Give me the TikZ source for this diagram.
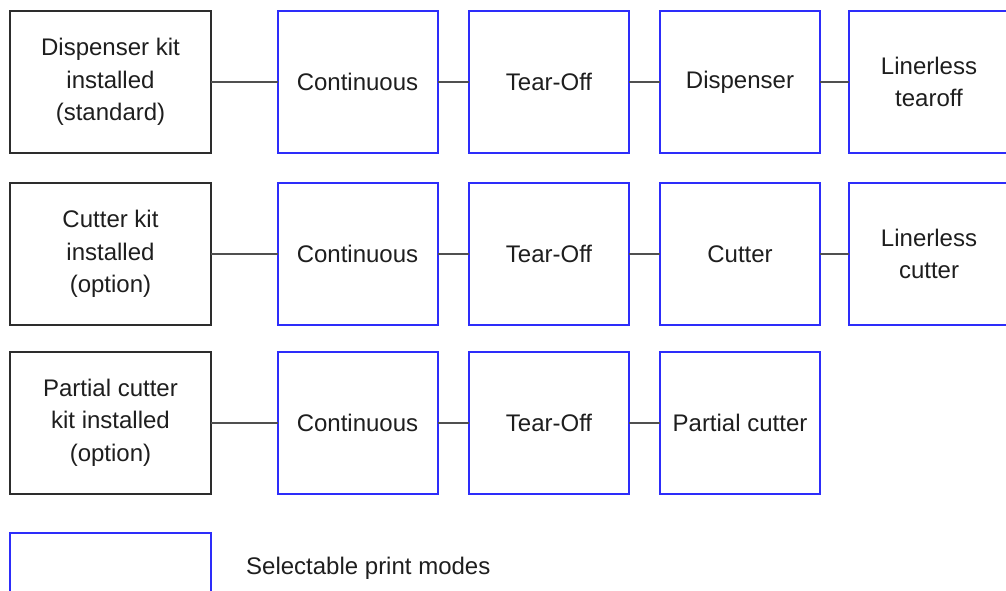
\documentclass[tikz,border=0pt]{standalone}
\usepackage{fontspec}
\setmainfont{Liberation Sans}
\definecolor{kitborder}{RGB}{45,45,45}
\definecolor{modeblue}{RGB}{45,45,250}
\definecolor{linkgray}{RGB}{80,80,80}
\definecolor{txt}{RGB}{30,30,30}
\begin{document}
\begin{tikzpicture}[x=1pt,y=-1pt,
  kitbox/.style={draw=kitborder,line width=2pt,minimum width=201pt,minimum height=142pt,inner sep=0pt,outer sep=0pt,align=center,text=txt,font=\fontsize{24}{32.5}\selectfont},
  modebox/.style={draw=modeblue,line width=2pt,minimum width=160pt,minimum height=142pt,inner sep=0pt,outer sep=0pt,align=center,text=txt,font=\fontsize{24}{32.5}\selectfont},
  link/.style={draw=linkgray,line width=2pt}]
\useasboundingbox (0,0) rectangle (1006,590);
\clip (0,0) rectangle (1006,590);
% row 1
\node[kitbox] (k1) at (110.5,82) {Dispenser kit\\installed\\(standard)};
\node[modebox] (a1) at (357.5,82) {Continuous};
\node[modebox] (a2) at (549,82) {Tear-Off};
\node[modebox] (a3) at (740,82) {Dispenser};
\node[modebox] (a4) at (929,82) {Linerless\\tearoff};
% row 2
\node[kitbox] (k2) at (110.5,254) {Cutter kit\\installed\\(option)};
\node[modebox] (b1) at (357.5,254) {Continuous};
\node[modebox] (b2) at (549,254) {Tear-Off};
\node[modebox] (b3) at (740,254) {Cutter};
\node[modebox] (b4) at (929,254) {Linerless\\cutter};
% row 3
\node[kitbox] (k3) at (110.5,422.5) {Partial cutter\\kit installed\\(option)};
\node[modebox] (c1) at (357.5,422.5) {Continuous};
\node[modebox] (c2) at (549,422.5) {Tear-Off};
\node[modebox] (c3) at (740,422.5) {Partial cutter};
% legend
\node[modebox,minimum width=201pt] (leg) at (110.5,604) {};
\node[anchor=west,text=txt,font=\fontsize{24}{32}\selectfont,inner sep=0pt] (legtxt) at (246,568) {Selectable print modes};
% connectors
\draw[link] (k1) -- (a1); \draw[link] (a1) -- (a2); \draw[link] (a2) -- (a3); \draw[link] (a3) -- (a4);
\draw[link] (k2) -- (b1); \draw[link] (b1) -- (b2); \draw[link] (b2) -- (b3); \draw[link] (b3) -- (b4);
\draw[link] (k3) -- (c1); \draw[link] (c1) -- (c2); \draw[link] (c2) -- (c3);
\end{tikzpicture}
\end{document}
